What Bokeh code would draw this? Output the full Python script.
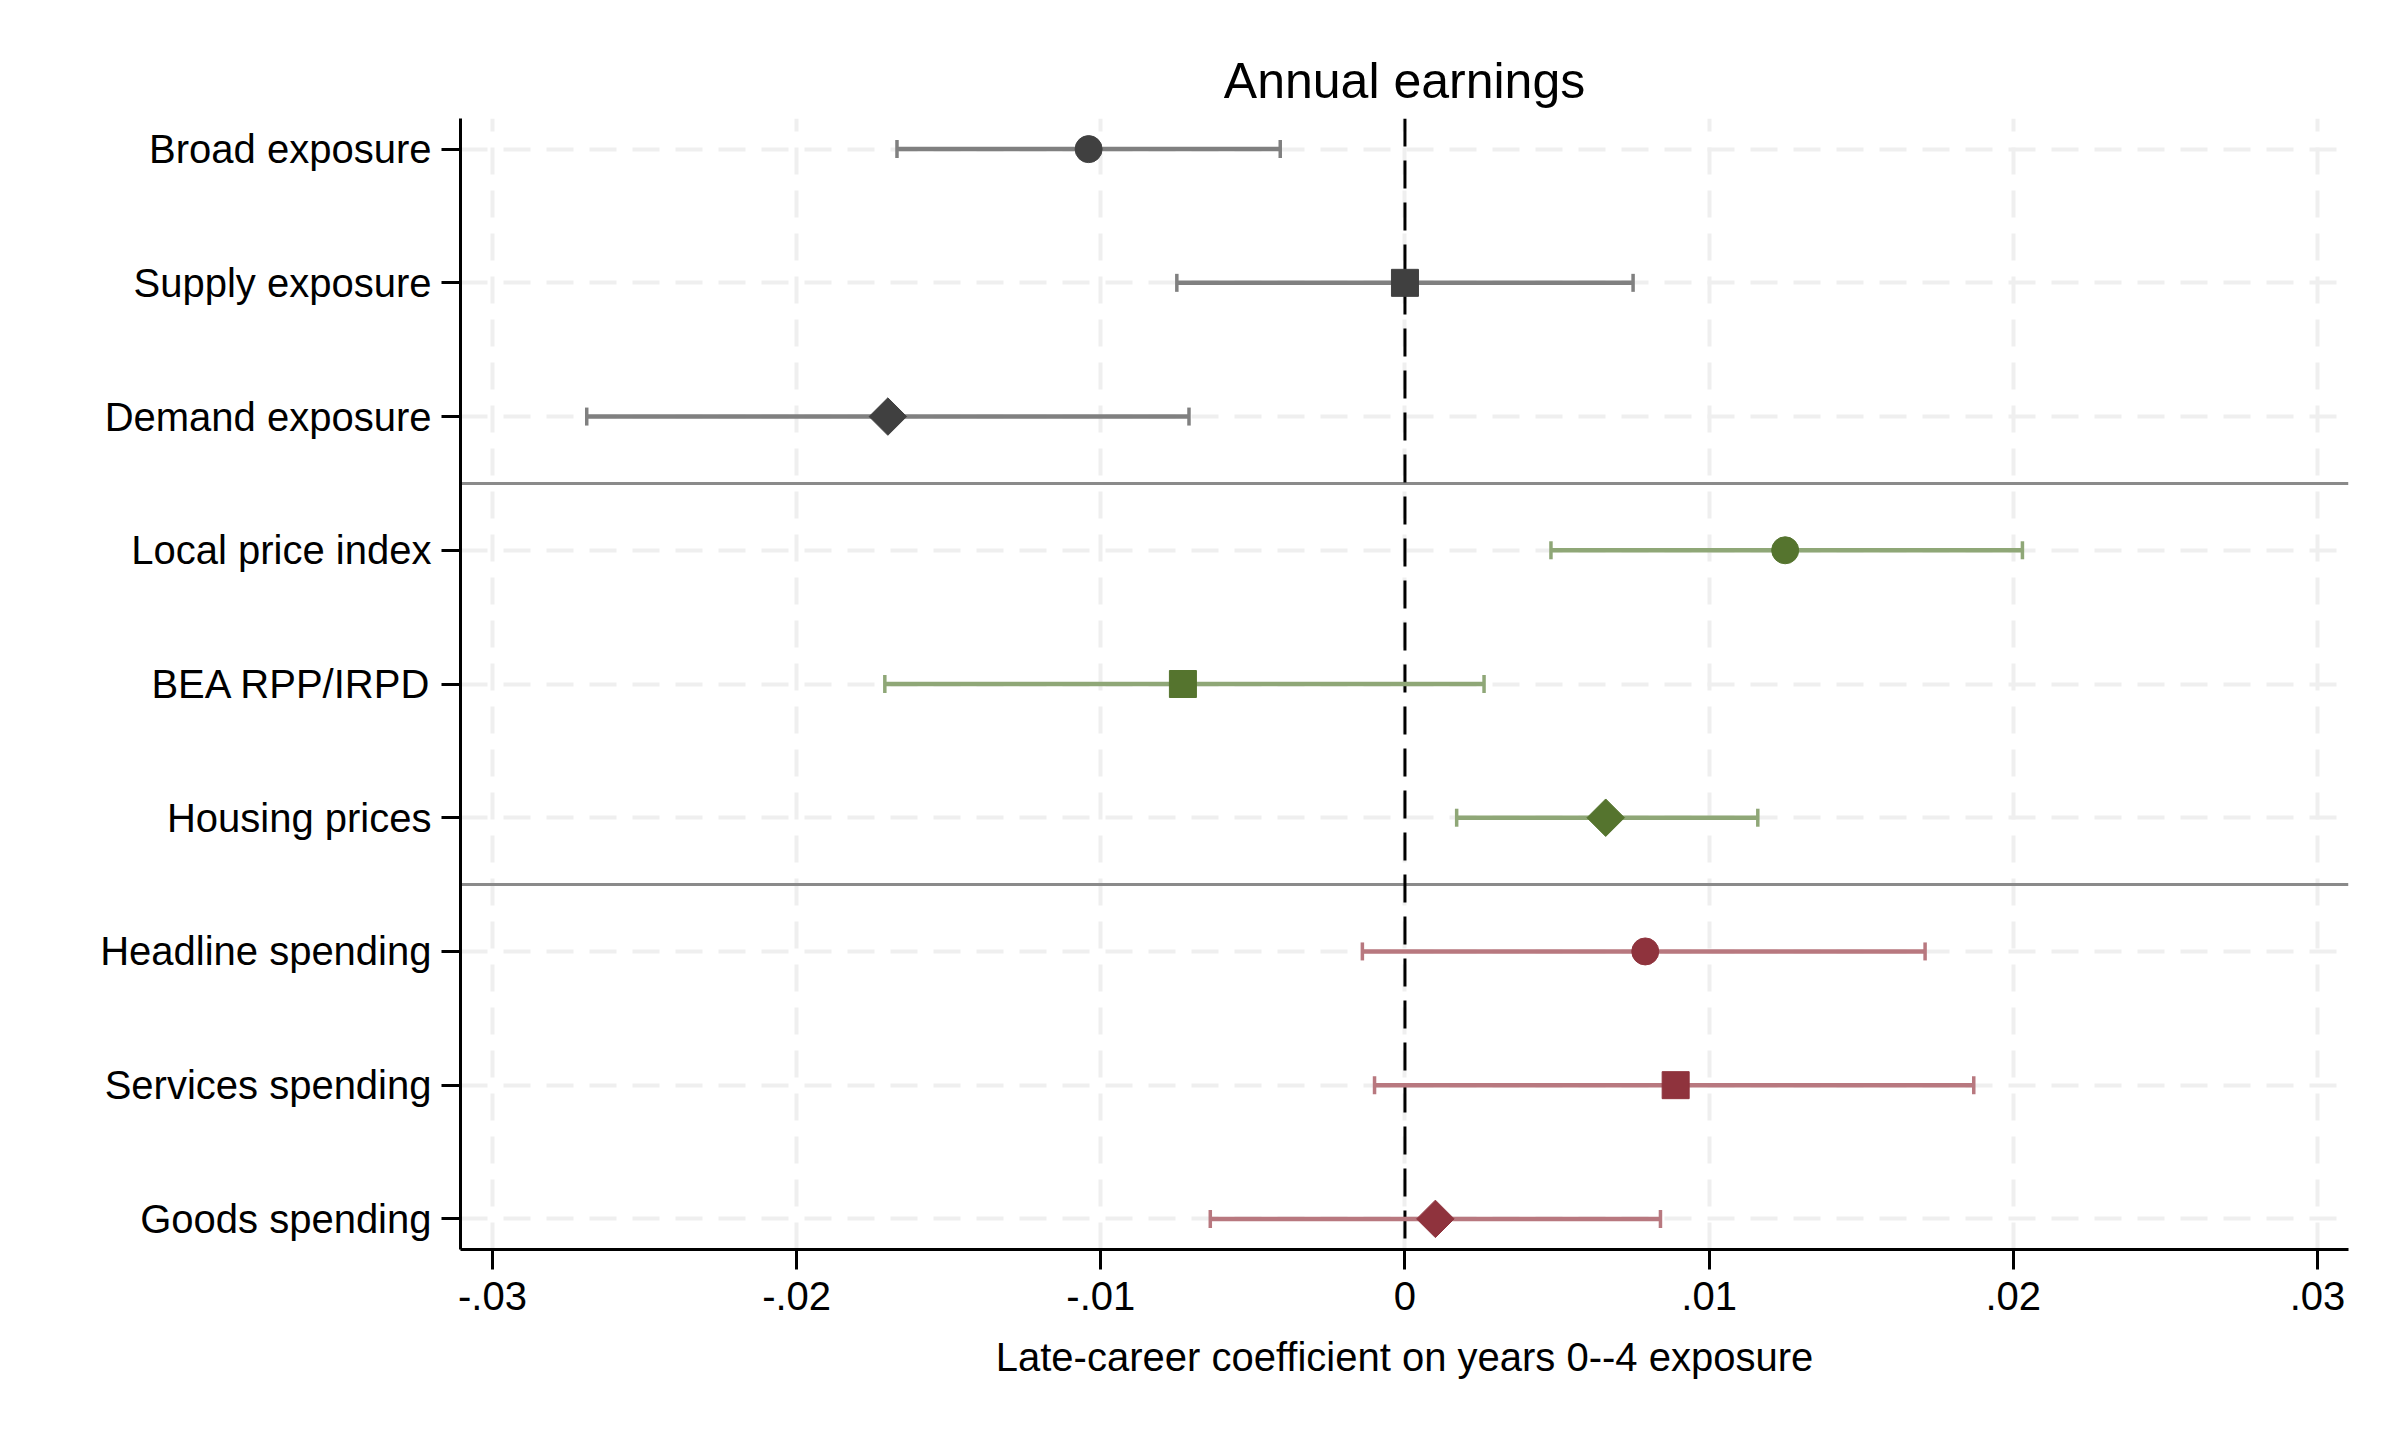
import math
from bokeh.plotting import figure
from bokeh.models import (ColumnDataSource, Range1d, FixedTicker, Span, Whisker, TeeHead)
from bokeh.embed import file_html
from bokeh.resources import INLINE

# ---- data ----
labels = ["Broad exposure", "Supply exposure", "Demand exposure",
          "Local price index", "BEA RPP/IRPD", "Housing prices",
          "Headline spending", "Services spending", "Goods spending"]
coef = [-0.0104, 0.0000, -0.0170, 0.0125, -0.0073, 0.0066, 0.0079, 0.0089, 0.0010]
ci_lo = [-0.0167, -0.0075, -0.0269, 0.0048, -0.0171, 0.0017, -0.0014, -0.0010, -0.0064]
ci_hi = [-0.0041, 0.0075, -0.0071, 0.0203, 0.0026, 0.0116, 0.0171, 0.0187, 0.0084]
groups = ["Exposure"] * 3 + ["Prices"] * 3 + ["Spending"] * 3
shapes = ["circle", "square", "diamond"] * 3
x_ticks = [-0.03, -0.02, -0.01, 0.0, 0.01, 0.02, 0.03]
x_tick_labels = ["-.03", "-.02", "-.01", "0", ".01", ".02", ".03"]
title_text = "Annual earnings"
x_label = "Late-career coefficient on years 0--4 exposure"

# ---- styles ----
FONT = "Liberation Sans"
marker_color = {"Exposure": "#404040", "Prices": "#55742e", "Spending": "#8f333d"}
ci_color = {"Exposure": "#808080", "Prices": "#8fa777", "Spending": "#b8787f"}

n = len(labels)
ypos = [n - i for i in range(n)]  # first label at top

W, H = 2384, 1424
p = figure(width=W, height=H, output_backend="svg", toolbar_location=None,
           x_range=Range1d(-0.03105, 0.03102), y_range=Range1d(0.771, n + 0.229),
           min_border_left=460, min_border_right=36, min_border_top=118,
           min_border_bottom=175)
p.outline_line_color = None
p.background_fill_color = "white"
p.border_fill_color = "white"

# title
p.title.text = title_text
p.title.align = "center"
p.title.text_font = FONT
p.title.text_font_size = "50px"
p.title.text_font_style = "normal"
p.title.text_color = "black"
p.title.standoff = 20

# axes
for ax in (p.xaxis[0], p.yaxis[0]):
    ax.axis_line_width = 3
    ax.axis_line_color = "black"
    ax.major_tick_line_width = 3
    ax.major_tick_line_color = "black"
    ax.major_tick_in = 0
    ax.major_tick_out = 20
    ax.minor_tick_line_color = None
    ax.major_label_text_font = FONT
    ax.major_label_text_font_size = "40px"
    ax.major_label_text_color = "black"

p.xaxis.ticker = FixedTicker(ticks=x_ticks)
p.xaxis.major_label_overrides = {t: l for t, l in zip(x_ticks, x_tick_labels)}
p.xaxis.major_label_standoff = 12
p.xaxis.axis_label = x_label
p.xaxis.axis_label_text_font = FONT
p.xaxis.axis_label_text_font_size = "40px"
p.xaxis.axis_label_text_font_style = "normal"
p.xaxis.axis_label_text_color = "black"
p.xaxis.axis_label_standoff = 22

p.yaxis.ticker = FixedTicker(ticks=ypos)
p.yaxis.major_label_overrides = {y: l for y, l in zip(ypos, labels)}
p.yaxis.major_label_standoff = 10
p.yaxis.major_tick_out = 19

# grids
for g in (p.xgrid[0], p.ygrid[0]):
    g.grid_line_color = "#efefef"
    g.grid_line_width = 4
    g.grid_line_dash = "27 16"

# group separators
group_names = []
for g in groups:
    if g not in group_names:
        group_names.append(g)
for gname in group_names[1:]:
    first = groups.index(gname)
    loc = (ypos[first] + ypos[first - 1]) / 2.0
    p.add_layout(Span(location=loc, dimension="width", line_color="#8a8a8a",
                      line_width=3, level="underlay"))

# zero line
p.add_layout(Span(location=0, dimension="height", line_color="black",
                  line_width=3, line_dash="28 14", level="underlay"))

# CIs and markers by group
for gname in group_names:
    idx = [i for i, g in enumerate(groups) if g == gname]
    src = ColumnDataSource(dict(
        y=[ypos[i] for i in idx],
        x=[coef[i] for i in idx],
        lo=[ci_lo[i] for i in idx],
        hi=[ci_hi[i] for i in idx],
        marker=["square" if shapes[i] == "diamond" else shapes[i] for i in idx],
        angle=[math.pi / 4 if shapes[i] == "diamond" else 0.0 for i in idx],
        size=[26.5 if shapes[i] == "diamond" else 27 for i in idx],
    ))
    c = ci_color[gname]
    w = Whisker(source=src, base="y", lower="lo", upper="hi", dimension="width",
                line_color=c, line_width=4.5, level="underlay",
                lower_head=TeeHead(size=18, line_color=c, line_width=3.5),
                upper_head=TeeHead(size=18, line_color=c, line_width=3.5))
    p.add_layout(w)
    p.scatter(x="x", y="y", source=src, marker="marker", angle="angle",
              size="size", fill_color=marker_color[gname],
              line_color=marker_color[gname], line_width=1)

open("out.html", "w").write(file_html(p, INLINE))
